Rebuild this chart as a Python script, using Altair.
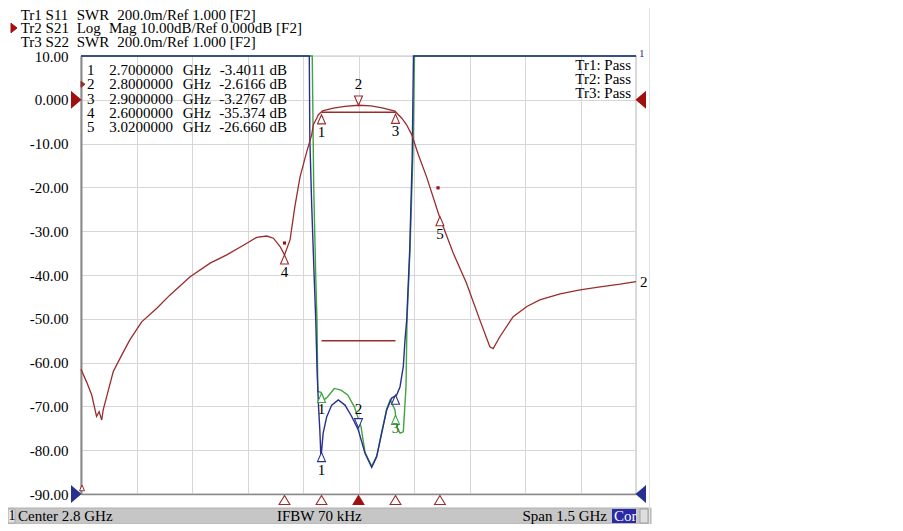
import altair as alt
import pandas as pd

# ---------------- data ----------------
# Tr2 S21 (Log Mag, dB)
s21_freq = [2.050, 2.065, 2.079, 2.092, 2.099, 2.106, 2.110, 2.124, 2.137, 2.160,
            2.182, 2.214, 2.255, 2.290, 2.345, 2.399, 2.444, 2.489, 2.525, 2.552,
            2.570, 2.588, 2.600, 2.615, 2.628, 2.642, 2.660, 2.6735, 2.678, 2.687,
            2.6915, 2.703, 2.732, 2.7635, 2.800, 2.834, 2.867, 2.8985, 2.917, 2.930,
            2.944, 2.962, 2.984, 3.020, 3.056, 3.092, 3.128, 3.155, 3.164, 3.182,
            3.218, 3.255, 3.290, 3.345, 3.399, 3.453, 3.507, 3.550]
s21_db = [-61.5, -64.4, -67.4, -72.3, -71.2, -73.1, -70.8, -66.3, -62.1, -58.3,
          -54.8, -50.7, -47.6, -44.6, -40.4, -37.3, -35.4, -33.2, -31.4, -31.1,
          -31.6, -33.5, -35.4, -32.0, -24.4, -17.6, -11.9, -8.0, -5.7, -4.2,
          -3.4, -2.5, -1.9, -1.5, -1.25, -1.4, -1.9, -2.6, -4.2, -5.7,
          -8.0, -12.6, -17.6, -27.0, -35.0, -41.9, -50.3, -56.4, -56.8, -54.1,
          -49.5, -47.2, -45.7, -44.3, -43.4, -42.7, -42.1, -41.5]

# Tr1 S11 (as drawn on the grid)
s11_freq = [2.050, 2.667, 2.6685, 2.6735, 2.680, 2.6845, 2.688, 2.692, 2.6955, 2.6985,
            2.7045, 2.7140, 2.7276, 2.7454, 2.7635, 2.7816, 2.7995, 2.8176, 2.8357, 2.8492,
            2.8627, 2.8762, 2.8897, 2.9032, 2.9122, 2.9211, 2.9257, 2.9303, 2.9384, 2.9450,
            2.9486, 3.550]
s11_val = [10, 10, -9.0, -24.0, -40.0, -50.3, -61.7, -70.1, -75.4, -81.8,
           -76.1, -72.4, -69.7, -68.5, -69.7, -72.3, -75.4, -80.7, -83.9, -81.5,
           -76.1, -70.8, -68.1, -67.4, -65.5, -60.9, -54.8, -50.3, -34.3, -13.7,
           10, 10]

# Tr3 S22 (as drawn on the grid)
s22_freq = [2.050, 2.6750, 2.679, 2.6843, 2.6878, 2.690, 2.6986, 2.7076, 2.7166, 2.7346,
            2.7527, 2.7708, 2.7888, 2.8068, 2.8176, 2.8357, 2.8492, 2.8627, 2.8762, 2.8856,
            2.8986, 2.9032, 2.9122, 2.9211, 2.9284, 2.9311, 2.9392, 2.9473, 2.9513, 3.550]
s22_val = [10, 10, -20, -40, -50.3, -66.6, -66.8, -68.5, -67.8, -65.9,
           -66.3, -67.4, -70.1, -74.6, -80.5, -83.7, -81.3, -75.9, -70.6, -68.5,
           -70.8, -74.6, -76.1, -75.8, -65.5, -50.3, -34.3, -12.0, 10, 10]

# markers (Tr2)
marker_num = ["1", "2", "3", "4", "5"]
marker_freq = [2.70, 2.80, 2.90, 2.60, 3.02]
marker_db = [-3.4011, -2.6166, -3.2767, -35.374, -26.660]
active_marker = "2"

# markers on Tr1 / Tr3 (as drawn)
s11_marker_num = ["1", "2", "3"]
s11_marker_freq = [2.70, 2.80, 2.90]
s11_marker_val = [-80.5, -74.9, -67.4]
s22_marker_num = ["1", "3"]
s22_marker_freq = [2.70, 2.90]
s22_marker_val = [-67.0, -72.0]

# limit lines / points
limit_low_freq = [2.70, 2.90]
limit_low_db = [-55.0, -55.0]
limit_pass_freq = [2.70, 2.90]
limit_pass_db = [-2.85, -2.85]
limit_point_freq = [2.60, 3.015]
limit_point_db = [-32.7, -20.1]

# reference levels
ref_s21_db = [0.0]
ref_swr_db = [-90.0]

# texts
header_trace = ["Tr1 S11", "Tr2 S21", "Tr3 S22"]
header_format = ["SWR", "Log", "SWR"]
header_scale = ["200.0m/Ref 1.000 [F2]", "Mag 10.00dB/Ref 0.000dB [F2]", "200.0m/Ref 1.000 [F2]"]
pass_text = ["Tr1: Pass", "Tr2: Pass", "Tr3: Pass"]
status_channel = "1"
status_center = "Center 2.8 GHz"
status_ifbw = "IFBW 70 kHz"
status_span = "Span 1.5 GHz"
status_cor = "Cor"

y_ticks = list(range(-90, 11, 10))
x_grid = [round(2.05 + 0.15 * k, 2) for k in range(11)]
x_domain = [2.05, 3.55]
y_domain = [-90, 10]

# ---------------- styling ----------------
FONT = "Liberation Serif"
RED = "#9a2c2c"
DARKRED = "#a01010"
BLUE = "#27308f"
GREEN = "#3fa540"
GRID = "#d6d6d6"
FRAME = "#8a8a8a"
W, H = 555, 438

UP = "M0,0 L1,2.3 L-1,2.3 Z"
DOWN = "M0,0 L1,-2.3 L-1,-2.3 Z"
ROW_TRI = "M0,-1 L1.2,1 L-1.2,1 Z"
RIGHT = "M-1,-1.7 L1,0 L-1,1.7 Z"
LEFT = "M1,-1.7 L-1,0 L1,1.7 Z"

xscale = alt.Scale(domain=x_domain, nice=False, zero=False)
yscale = alt.Scale(domain=y_domain, nice=False, zero=False)
xaxis = alt.Axis(values=x_grid, labels=False, ticks=False, grid=True, gridColor=GRID,
                 domainColor=FRAME, domainWidth=1.5, title=None)
yaxis = alt.Axis(values=y_ticks, ticks=False, grid=True, gridColor=GRID,
                 labelExpr="datum.value == 0 ? '0.000' : (datum.value < 0 ? '-' + format(-datum.value, '.2f') : format(datum.value, '.2f'))",
                 labelPadding=13, labelFont=FONT, labelFontSize=15, labelColor="black",
                 domainColor=FRAME, domainWidth=2, title=None)
X = alt.X("f:Q", scale=xscale, axis=xaxis, title=None)
Y = alt.Y("v:Q", scale=yscale, axis=yaxis, title=None)

one = pd.DataFrame({"k": [0]})


def df(freqs, vals, labels=None):
    d = {"f": freqs, "v": vals}
    if labels is not None:
        d["t"] = labels
    return pd.DataFrame(d)


def pix_text(text, x, y, align="left", color="black", size=15, lh=14.2):
    # y is the centre of the first line; further lines go downwards
    return alt.Chart(one).mark_text(text=text, align=align, baseline="middle", lineHeight=lh,
                                    font=FONT, fontSize=size, color=color).encode(
        x=alt.value(x), y=alt.value(y))


def pix_rect(x1, x2, y1, y2, fill, stroke=None):
    kw = {"fill": fill}
    if stroke:
        kw["stroke"] = stroke
        kw["strokeWidth"] = 1
    return alt.Chart(one).mark_rect(**kw).encode(
        x=alt.value(x1), x2=alt.value(x2), y=alt.value(y1), y2=alt.value(y2))


def pix_glyph(path, x, y, size, fill, stroke=None):
    return alt.Chart(one).mark_point(shape=path, size=size, filled=True, fill=fill,
                                     stroke=stroke or fill, strokeWidth=1, opacity=1).encode(
        x=alt.value(x), y=alt.value(y))


def glyphs(data, path, size, fill, stroke, y=None, **kw):
    enc = {"x": X, "y": Y if y is None else alt.value(y)}
    return alt.Chart(data).mark_point(shape=path, size=size, filled=True, fill=fill,
                                      stroke=stroke, strokeWidth=1.1, opacity=1, **kw).encode(**enc)


def fmt5(v):
    import math
    d = 4 - int(math.floor(math.log10(abs(v))))
    return f"{v:.{d}f}"


markers = df(marker_freq, marker_db, marker_num)
m_up = markers[markers.t != active_marker]
m_act = markers[markers.t == active_marker]
s11m = df(s11_marker_freq, s11_marker_val, s11_marker_num)
s22m = df(s22_marker_freq, s22_marker_val, s22_marker_num)

layers = []

# limit lines and points
layers.append(alt.Chart(df(limit_low_freq, limit_low_db)).mark_line(color=RED, strokeWidth=1.4).encode(x=X, y=Y))
layers.append(alt.Chart(df(limit_pass_freq, limit_pass_db)).mark_line(color=RED, strokeWidth=1.4).encode(x=X, y=Y))
layers.append(alt.Chart(df(limit_point_freq, limit_point_db)).mark_square(color=DARKRED, size=10, opacity=1).encode(x=X, y=Y))

# traces
layers.append(alt.Chart(df(s22_freq, s22_val)).mark_line(color=GREEN, strokeWidth=1.4).encode(x=X, y=Y))
layers.append(alt.Chart(df(s11_freq, s11_val)).mark_line(color=BLUE, strokeWidth=1.4).encode(x=X, y=Y))
layers.append(alt.Chart(df(s21_freq, s21_db)).mark_line(color=RED, strokeWidth=1.3).encode(x=X, y=Y))

# marker glyphs on traces
layers.append(glyphs(m_up, UP, 64, "white", RED))
layers.append(glyphs(m_act, DOWN, 64, "white", RED, yOffset=-6))
layers.append(glyphs(s11m[s11m.t != "2"], UP, 64, "white", BLUE))
layers.append(glyphs(s11m[s11m.t == "2"], DOWN, 64, "white", BLUE))
layers.append(glyphs(s22m, UP, 64, "white", GREEN))

# marker labels
lab = dict(font=FONT, fontSize=15, baseline="middle", color="black")
layers.append(alt.Chart(m_up).mark_text(dy=17, **lab).encode(x=X, y=Y, text="t:N"))
layers.append(alt.Chart(m_act).mark_text(dy=-27, **lab).encode(x=X, y=Y, text="t:N"))
layers.append(alt.Chart(s11m[s11m.t == "1"]).mark_text(dy=18, **lab).encode(x=X, y=Y, text="t:N"))
layers.append(alt.Chart(s11m[s11m.t == "2"]).mark_text(dy=-19, **lab).encode(x=X, y=Y, text="t:N"))
layers.append(alt.Chart(s22m[s22m.t == "1"]).mark_text(dy=16, **lab).encode(x=X, y=Y, text="t:N"))
layers.append(alt.Chart(s22m[s22m.t == "3"]).mark_text(dy=13, font=FONT, fontSize=15, baseline="middle",
                                                       color="#2f7a2f").encode(x=X, y=Y, text="t:N"))

# trace-end label
layers.append(alt.Chart(df([s21_freq[-1]], [s21_db[-1]], ["2"])).mark_text(
    dx=4, align="left", **lab).encode(x=X, y=Y, text="t:N"))

# marker position row below the grid
layers.append(glyphs(m_up, ROW_TRI, 81, "white", RED, y=H + 6))
layers.append(glyphs(m_act, ROW_TRI, 81, DARKRED, DARKRED, y=H + 6))

# reference level indicators
layers.append(alt.Chart(df([x_domain[0]], ref_s21_db)).mark_point(shape=RIGHT, size=64, filled=True, fill=DARKRED,
                                                                  stroke=DARKRED, opacity=1, xOffset=-5).encode(x=X, y=Y))
layers.append(alt.Chart(df([x_domain[0]], ref_swr_db)).mark_point(shape=RIGHT, size=64, filled=True, fill=BLUE,
                                                                  stroke=BLUE, opacity=1, xOffset=-5).encode(x=X, y=Y))
layers.append(alt.Chart(df([x_domain[1]], ref_s21_db)).mark_point(shape=LEFT, size=64, filled=True, fill=DARKRED,
                                                                  stroke=DARKRED, opacity=1, xOffset=5).encode(x=X, y=Y))
layers.append(alt.Chart(df([x_domain[1]], ref_swr_db)).mark_point(shape=LEFT, size=64, filled=True, fill=BLUE,
                                                                  stroke=BLUE, opacity=1, xOffset=5).encode(x=X, y=Y))
# small start-frequency marker at bottom-left
layers.append(pix_glyph(UP, 1, H - 9, 25, "white", RED))
# top-right trace tag
layers.append(pix_text("1", 558, -2, size=11, color=BLUE))

# header (three lines, single-line texts so boxes do not overlap)
HY = [-41.5, -28.0, -14.5]
for i in range(3):
    layers.append(pix_text(header_trace[i], -60.3, HY[i]))
    layers.append(pix_text(header_format[i], -4.3, HY[i]))
layers.append(pix_text(header_scale[0], 36.3, HY[0]))
layers.append(pix_text(header_scale[1], 28.0, HY[1]))
layers.append(pix_text(header_scale[2], 36.3, HY[2]))
layers.append(pix_glyph("M-1,-1.6 L1,0 L-1,1.6 Z", -67, HY[1], 36, DARKRED))

# marker table
TY = 14.0
layers.append(pix_text(marker_num, 6, TY, lh=14.3))
layers.append(pix_text([f"{f:.7f}" for f in marker_freq], 28.3, TY, lh=14.3))
layers.append(pix_text(["GHz"] * len(marker_num), 101.7, TY, lh=14.3))
layers.append(pix_text([fmt5(v) for v in marker_db], 184.5, TY, align="right", lh=14.3))
layers.append(pix_text(["dB"] * len(marker_num), 188.5, TY, lh=14.3))
layers.append(pix_glyph("M-1,-1.5 L1,0 L-1,1.5 Z", 2, TY + 14.3, 16, RED))

# pass/fail
layers.append(pix_text(pass_text, 550, 9.0, align="right", lh=14.2))

# status bar
layers.append(pix_rect(-73, 570, 452, 468, "#c6c6c6", "#b0b0b0"))
layers.append(pix_rect(-73, -66, 453, 467, "#e4e4e4", "#a8a8a8"))
layers.append(pix_text(status_channel, -72.5, 460, size=14))
layers.append(pix_text(status_center, -63, 460, size=15))
layers.append(pix_text(status_ifbw, 196, 460, size=15))
layers.append(pix_text(status_span, 526, 460, align="right", size=15))
layers.append(pix_rect(531, 555, 453, 467, "#2a2aa6"))
layers.append(pix_text(status_cor, 533, 460, size=15, color="white"))
layers.append(pix_rect(559, 567, 453, 467, "#dedede", "#a0a0a0"))
# screenshot right border
layers.append(alt.Chart(one).mark_rule(color="#e2e2e2").encode(
    x=alt.value(568.5), y=alt.value(-51), y2=alt.value(470)))

chart = alt.layer(*layers).properties(
    width=W, height=H,
    autosize=alt.AutoSizeParams(type="none"),
    padding={"left": 73, "top": 48, "right": 250, "bottom": 30},
).configure_view(stroke=FRAME, strokeWidth=1.2)

chart.save("out.html", embed_options={"renderer": "svg", "actions": False})
